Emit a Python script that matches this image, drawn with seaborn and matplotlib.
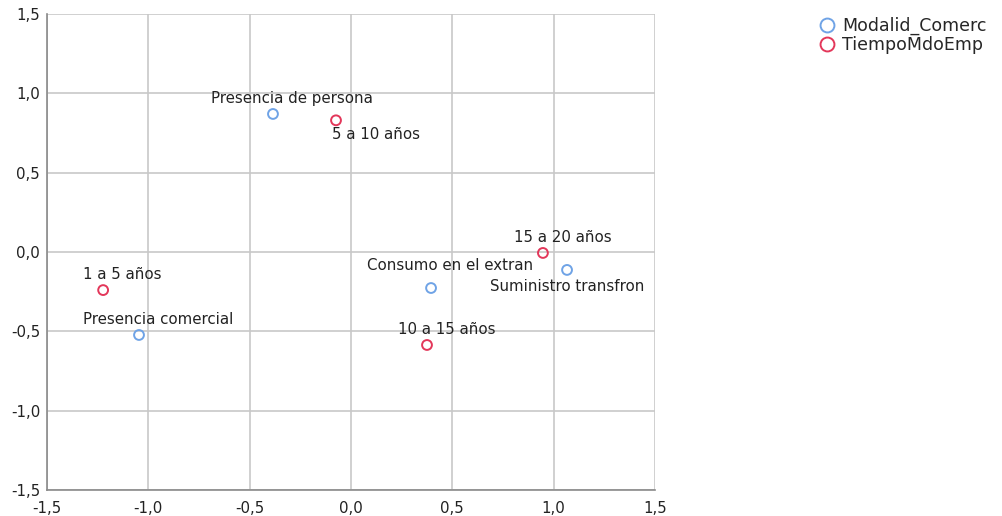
import matplotlib
matplotlib.use("Agg")
import matplotlib.pyplot as plt
from matplotlib.lines import Line2D
import seaborn as sns
import pandas as pd

# Category points of the two variables in the joint plot (dimension 1, dimension 2)
modalidad_labels = ["Presencia de persona", "Consumo en el extran",
                    "Suministro transfron", "Presencia comercial"]
modalidad_dim1 = [-0.385, 0.395, 1.066, -1.046]
modalidad_dim2 = [0.87, -0.227, -0.113, -0.523]

tiempo_labels = ["5 a 10 años", "15 a 20 años", "10 a 15 años", "1 a 5 años"]
tiempo_dim1 = [-0.074, 0.947, 0.375, -1.223]
tiempo_dim2 = [0.83, -0.006, -0.586, -0.24]

series_names = ["Modalid_Comerc", "TiempoMdoEmp"]
ticks = [-1.5, -1.0, -0.5, 0.0, 0.5, 1.0, 1.5]
tick_labels = ["-1,5", "-1,0", "-0,5", "0,0", "0,5", "1,0", "1,5"]

# label offsets in points (dx, dy) relative to each point
modalidad_offsets = [(14, 11), (14, 16), (0, -12), (14, 11)]
tiempo_offsets = [(29, -10), (14, 11), (14, 11), (14, 11)]

df = pd.DataFrame({
    "dim1": modalidad_dim1 + tiempo_dim1,
    "dim2": modalidad_dim2 + tiempo_dim2,
    "label": modalidad_labels + tiempo_labels,
    "var": [series_names[0]] * 4 + [series_names[1]] * 4,
})

sns.set_theme(style="white")
plt.rcParams["font.family"] = ["DejaVu Sans"]

fig = plt.figure(figsize=(10.03, 5.16), dpi=100)
ax = fig.add_axes([47 / 1003, 26 / 516, 608 / 1003, 476 / 516])

palette = {series_names[0]: "#6fa3e6", series_names[1]: "#e3375a"}
sns.scatterplot(data=df, x="dim1", y="dim2", hue="var", palette=palette,
                ax=ax, s=50, linewidth=1.4, legend=False, zorder=3)
# draw the markers as open circles
for coll in ax.collections:
    fc = coll.get_facecolors()
    coll.set_edgecolors(fc)
    coll.set_facecolors("none")

offsets = modalidad_offsets + tiempo_offsets
for (x, y, lab), (dx, dy) in zip(df[["dim1", "dim2", "label"]].values, offsets):
    ax.annotate(lab, (x, y), xytext=(dx, dy), textcoords="offset points",
                ha="center", va="center", fontsize=10.8, color="#222222")

ax.set_xlim(-1.5, 1.5)
ax.set_ylim(-1.5, 1.5)
ax.set_xticks(ticks)
ax.set_xticklabels(tick_labels)
ax.set_yticks(ticks)
ax.set_yticklabels(tick_labels)
ax.set_xlabel("")
ax.set_ylabel("")
ax.grid(True, color="#c8c8c8", linewidth=1.2)
ax.set_axisbelow(True)
for side in ["top", "right"]:
    ax.spines[side].set_visible(False)
for side in ["left", "bottom"]:
    ax.spines[side].set_color("#8a8a8a")
    ax.spines[side].set_linewidth(1.2)
ax.tick_params(axis="both", length=0, labelsize=10.8, colors="#222222")
ax.tick_params(axis="x", pad=8)
ax.tick_params(axis="y", pad=5)

# legend
handles = [Line2D([], [], marker="o", linestyle="none", markersize=10,
                  markerfacecolor="none", markeredgecolor=palette[n],
                  markeredgewidth=1.4) for n in series_names]
fig.legend(handles, series_names, loc="upper left",
           bbox_to_anchor=(811 / 1003, 1 - 10 / 516), frameon=False,
           fontsize=12.5, handletextpad=0.4, labelspacing=0.05,
           handlelength=1.0, borderaxespad=0)

fig.savefig("out.png", dpi=100)
